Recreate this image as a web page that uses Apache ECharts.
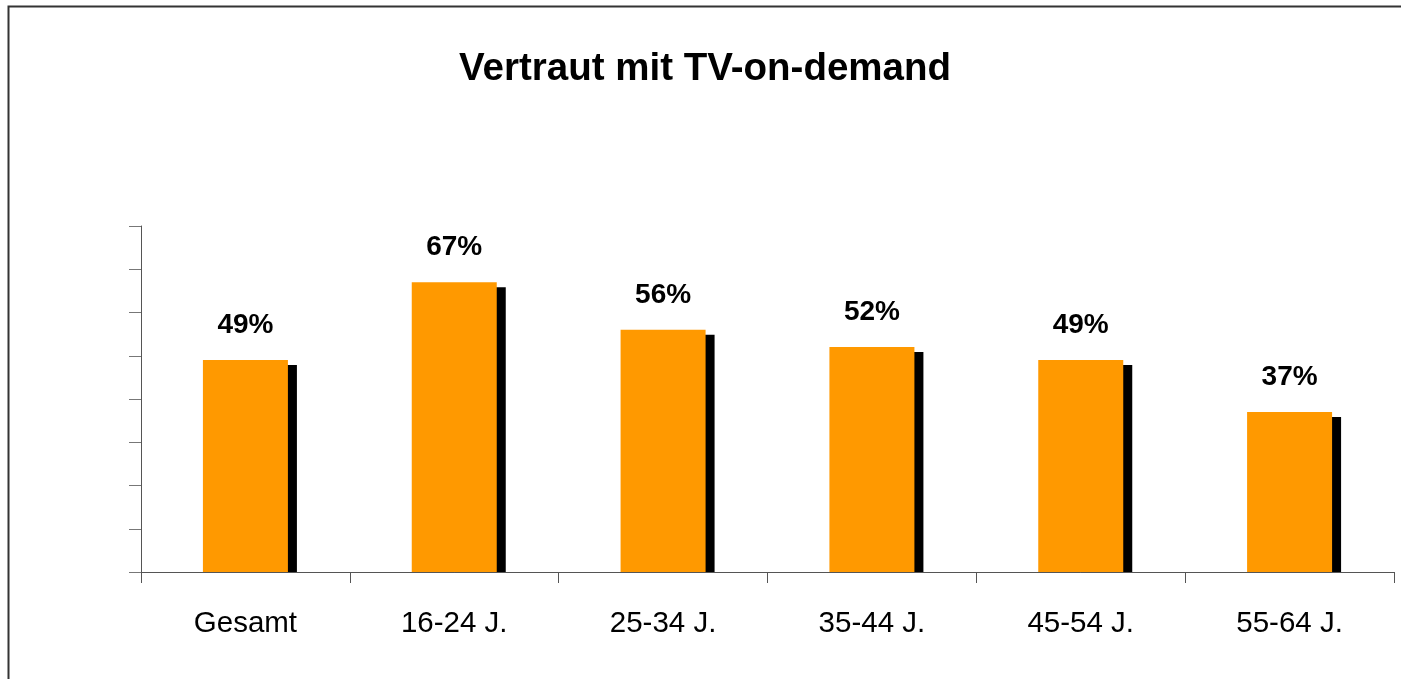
<!DOCTYPE html>
<html>
<head>
<meta charset="utf-8">
<script src="https://cdn.jsdelivr.net/npm/echarts@6/dist/echarts.min.js"></script>
<style>
html,body{margin:0;padding:0;background:#fff;}
#c{width:1401px;height:679px;}
</style>
</head>
<body>
<div id="c"></div>
<script>
var title = 'Vertraut mit TV-on-demand';
var categories = ['Gesamt', '16-24 J.', '25-34 J.', '35-44 J.', '45-54 J.', '55-64 J.'];
var values = [49, 67, 56, 52, 49, 37];

var chart = echarts.init(document.getElementById('c'));
var BAR_W = 85, SH_X = 9, SH_Y = 5;
chart.setOption({
  animation: false,
  backgroundColor: '#fff',
  title: {
    text: title,
    left: 700, top: 45, textAlign: 'center',
    textStyle: {fontFamily: 'Liberation Sans', fontSize: 38.5, fontWeight: 'bold', color: '#000'}
  },
  graphic: [{
    type: 'polyline',
    shape: {points: [[8.5, 690], [8.5, 6.5], [1410, 6.5]]},
    style: {stroke: '#333', lineWidth: 2, fill: null},
    silent: true
  }],
  grid: {left: 141, right: 7, top: 226, bottom: 107, containLabel: false},
  xAxis: {
    type: 'category',
    data: categories,
    axisLine: {lineStyle: {color: '#555', width: 1}},
    axisTick: {show: true, length: 11, lineStyle: {color: '#555'}},
    axisLabel: {fontFamily: 'Liberation Sans', fontSize: 29.5, color: '#000', margin: 37}
  },
  yAxis: {
    type: 'value',
    min: 0, max: 80, interval: 10,
    axisLine: {show: true, lineStyle: {color: '#555', width: 1}},
    axisTick: {show: true, length: 12, lineStyle: {color: '#777'}},
    axisLabel: {show: false},
    splitLine: {show: false}
  },
  series: [{
    type: 'custom',
    z: 1,
    renderItem: function (params, api) {
      var top = api.coord([api.value(0), api.value(1)]);
      var base = api.coord([api.value(0), 0]);
      return {
        type: 'rect',
        shape: {x: top[0] - BAR_W / 2 + SH_X, y: top[1] + SH_Y, width: BAR_W, height: base[1] - top[1] - SH_Y},
        style: {fill: '#000'}
      };
    },
    data: values.map(function (v, i) { return [i, v]; })
  }, {
    type: 'bar',
    z: 2,
    data: values,
    barWidth: BAR_W,
    itemStyle: {color: '#FF9900'},
    label: {
      show: true, position: 'top', distance: 21,
      formatter: '{c}%',
      fontFamily: 'Liberation Sans', fontSize: 28, fontWeight: 'bold', color: '#000'
    }
  }]
});
</script>
</body>
</html>
